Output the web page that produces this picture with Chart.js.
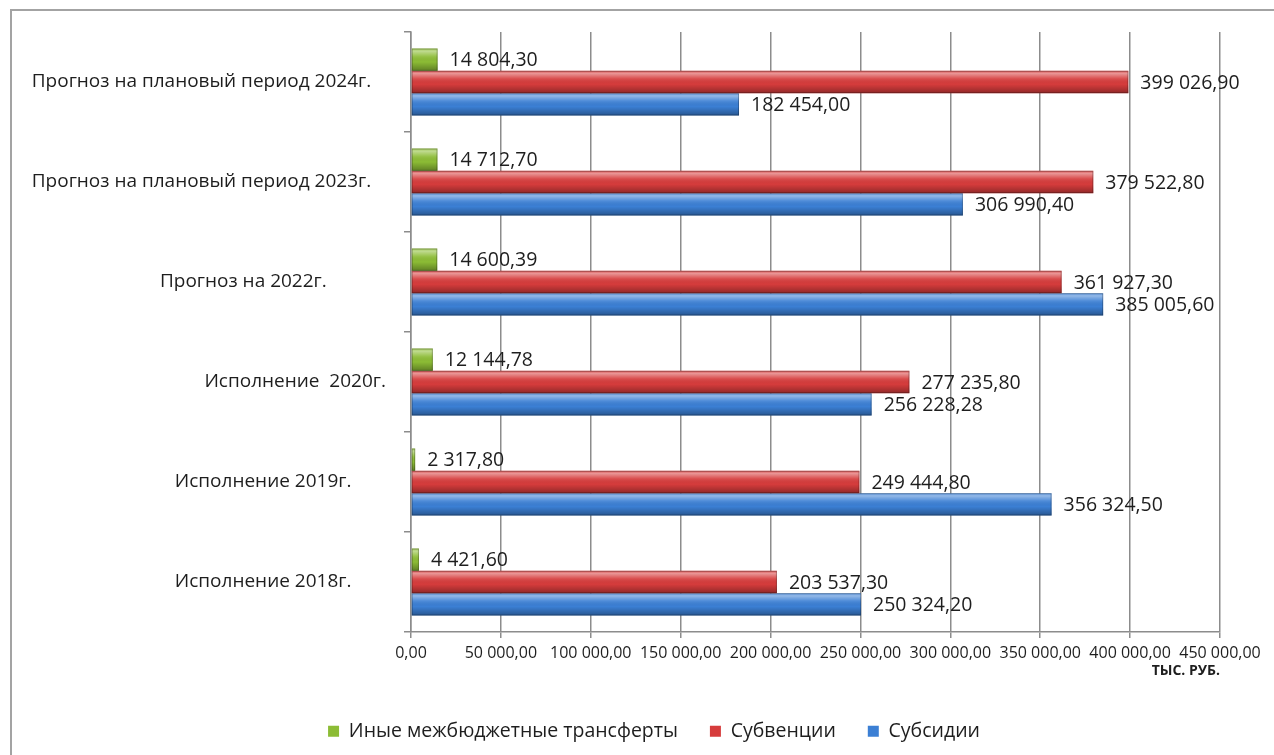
<!DOCTYPE html>
<html>
<head>
<meta charset="utf-8">
<script src="https://cdn.jsdelivr.net/npm/chart.js@4"></script>
<style>
  html, body { margin: 0; padding: 0; background: #fff; overflow: hidden; }
  #frame { position: absolute; left: 10px; top: 9px; width: 1300px; height: 800px; border: 2px solid #a3a3a3; }
  #wrap { position: absolute; left: 0; top: 0; width: 1274px; height: 755px; }
</style>
</head>
<body>
<div id="frame"></div>
<div id="wrap"><canvas id="chart" width="1274" height="755"></canvas></div>
<script>
// categories, top to bottom (Excel labels kept with their trailing spaces)
const categories = [
    "Прогноз на плановый период 2024г.   ",
    "Прогноз на плановый период 2023г.   ",
    "Прогноз на 2022г.            ",
    "Исполнение  2020г.",
    "Исполнение 2019г.       ",
    "Исполнение 2018г.       "
];
const otherTransfers = [14804.30, 14712.70, 14600.39, 12144.78, 2317.80, 4421.60];
const subventions = [399026.90, 379522.80, 361927.30, 277235.80, 249444.80, 203537.30];
const subsidies = [182454.00, 306990.40, 385005.60, 256228.28, 356324.50, 250324.20];
const xTicks = [0, 50000, 100000, 150000, 200000, 250000, 300000, 350000, 400000, 450000];

const FONT = "'Open Sans', 'Noto Sans', sans-serif";

function fmt(v){
    let parts = v.toFixed(2).split(".");
    let int = parts[0].replace(/\B(?=(\d{3})+(?!\d))/g, " ");
    return int + "," + parts[1];
}

// glossy look on top of each bar
const shine = {
    id: "shine",
    afterDatasetsDraw(chart){
        const ctx = chart.ctx;
        chart.data.datasets.forEach(function(ds, i){
            const meta = chart.getDatasetMeta(i);
            meta.data.forEach(function(el){
                const p = el.getProps(["x", "y", "base", "height"], true);
                const top = p.y - p.height / 2;
                const g = ctx.createLinearGradient(0, top, 0, top + p.height);
                g.addColorStop(0, "rgba(255,255,255,0.15)");
                g.addColorStop(0.12, "rgba(255,255,255,0.45)");
                g.addColorStop(0.35, "rgba(255,255,255,0.1)");
                g.addColorStop(0.6, "rgba(0,0,0,0)");
                g.addColorStop(1, "rgba(0,0,0,0.32)");
                ctx.save();
                ctx.fillStyle = g;
                ctx.fillRect(p.base, top, p.x - p.base, p.height);
                ctx.strokeStyle = "rgba(0,0,0,0.25)";
                ctx.lineWidth = 1;
                ctx.strokeRect(p.base + 0.5, top + 0.5, p.x - p.base - 1, p.height - 1);
                ctx.restore();
            });
        });
    }
};

// value labels right of the bars
const valueLabels = {
    id: "valueLabels",
    afterDatasetsDraw(chart){
        const ctx = chart.ctx;
        ctx.save();
        ctx.font = "19.5px " + FONT;
        ctx.fillStyle = "#1e1e1e";
        ctx.textBaseline = "middle";
        ctx.textAlign = "left";
        chart.data.datasets.forEach(function(ds, i){
            const meta = chart.getDatasetMeta(i);
            meta.data.forEach(function(el, j){
                ctx.fillText(fmt(ds.data[j]), el.x + 12, el.y + 1);
            });
        });
        ctx.restore();
    }
};

// legend in the original sits a bit right of centre
const legendShift = {
    id: "legendShift",
    afterLayout(chart){
        chart.legend.left += 44;
        chart.legend.right += 44;
    }
};

new Chart(document.getElementById("chart"), {
    type: "bar",
    data: {
        labels: categories,
        datasets: [
            { label: "Иные межбюджетные трансферты", data: otherTransfers, backgroundColor: "#8cbc35" },
            { label: "Субвенции", data: subventions, backgroundColor: "#d63c3c" },
            { label: "Субсидии", data: subsidies, backgroundColor: "#3b7fd4" }
        ]
    },
    options: {
        indexAxis: "y",
        responsive: false,
        animation: false,
        layout: { padding: { top: 32, right: 54, bottom: 4, left: 0 } },
        datasets: { bar: { barPercentage: 1.0, categoryPercentage: 0.67 } },
        scales: {
            x: {
                min: 0,
                max: 450000,
                afterBuildTicks: function(s){ s.ticks = xTicks.map(function(v){ return { value: v }; }); },
                ticks: {
                    color: "#1e1e1e",
                    font: { family: FONT, size: 16 },
                    padding: 6,
                    maxRotation: 0,
                    autoSkip: false,
                    callback: function(v){ return fmt(v); }
                },
                grid: { color: "#8c8c8c", lineWidth: 1.5, tickLength: 6 },
                border: { color: "#8c8c8c", width: 1.5 },
                title: {
                    display: true,
                    text: "ТЫС. РУБ.",
                    align: "end",
                    color: "#1e1e1e",
                    font: { family: FONT, size: 14, weight: "bold" },
                    padding: { top: 0, bottom: 10 }
                },
                afterFit: function(s){
                    const lh = s.chart.legend ? s.chart.legend.height : 0;
                    s.height = s.chart.height - 4 - lh - 632;
                }
            },
            y: {
                ticks: {
                    color: "#1e1e1e",
                    font: { family: FONT, size: 19 },
                    padding: 18
                },
                grid: { drawOnChartArea: false, color: "#8c8c8c", lineWidth: 1.5, tickLength: 7 },
                border: { color: "#8c8c8c", width: 1.5 },
                afterFit: function(s){ s.width = 411; }
            }
        },
        plugins: {
            legend: {
                position: "bottom",
                labels: {
                    boxWidth: 11,
                    boxHeight: 11,
                    padding: 32,
                    color: "#1e1e1e",
                    font: { family: FONT, size: 19.5 }
                }
            },
            tooltip: { enabled: false }
        }
    },
    plugins: [shine, valueLabels, legendShift]
});
</script>
</body>
</html>
